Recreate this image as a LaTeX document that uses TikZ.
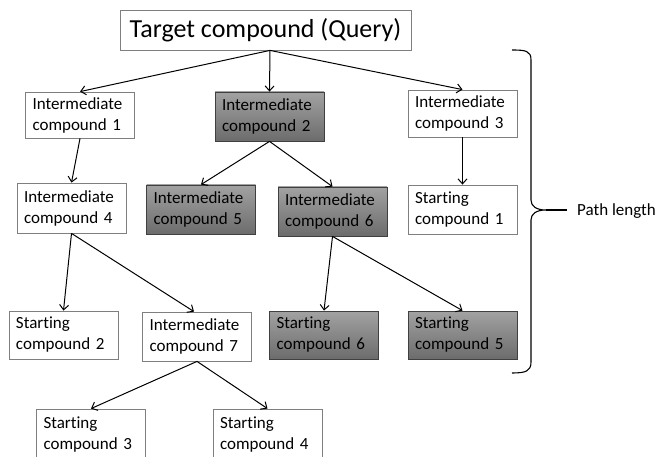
\documentclass[tikz,border=0pt]{standalone}
\usepackage{fontspec}
\setmainfont{Carlito}[RawFeature={-liga}]
\usetikzlibrary{arrows.meta}
\definecolor{boxline}{HTML}{7F7F7F}
\definecolor{darkline}{HTML}{404040}
\definecolor{shadetop}{HTML}{A2A2A2}
\definecolor{shadebot}{HTML}{6C6C6C}
\begin{document}
\begin{tikzpicture}[x=1pt,y=-1pt,
  cbox/.style={draw=boxline, line width=0.8pt, fill=white, align=left,
    text width=95pt, inner xsep=7pt, inner ysep=0pt, minimum width=109pt,
    minimum height=#1, font=\fontsize{17}{21}\selectfont},
  cbox/.default=48pt,
  gbox/.style={cbox=#1, draw=darkline, top color=shadetop, bottom color=shadebot},
  gbox/.default=49pt,
  arr/.style={line width=1pt, -{Straight Barb[length=5pt,width=9pt]}}]
\useasboundingbox (0,0) rectangle (659,457);
\clip (0,0) rectangle (659,457);

% query node
\node[draw=boxline, line width=0.8pt, minimum width=291pt, minimum height=40pt,
  inner sep=0pt, font=\fontsize{26}{30}\selectfont] (top) at (265.5,30) {Target compound (Query)};

% first level
\node[cbox=46pt] (ic1) at (80,115) {Intermediate\\compound 1};
\node[gbox=49pt] (ic2) at (269.5,116.5) {Intermediate\\compound 2};
\node[cbox=47pt] (ic3) at (462.5,113.5) {Intermediate\\compound 3};

% second level
\node[cbox=50pt] (ic4) at (71.5,208) {Intermediate\\compound 4};
\node[gbox] (ic5) at (201,209.5) {Intermediate\\compound 5};
\node[gbox] (ic6) at (332.5,211.5) {Intermediate\\compound 6};
\node[cbox=49pt] (sc1) at (462.5,209.5) {Starting\\compound 1};

% third level
\node[cbox] (sc2) at (63.5,335) {Starting\\compound 2};
\node[cbox=49pt] (ic7) at (197,336.5) {Intermediate\\compound 7};
\node[gbox=48pt] (sc6) at (324,335) {Starting\\compound 6};
\node[gbox=48pt] (sc5) at (462.5,335) {Starting\\compound 5};

% fourth level
\node[cbox=52pt] (sc3) at (91,435) {Starting\\compound 3};
\node[cbox=52pt] (sc4) at (267.5,435) {Starting\\compound 4};

% connectors
\coordinate (root) at ([xshift=4.5pt]top.south);
\draw[arr] (root) -- (ic1.north);
\draw[arr] (root) -- (ic2.north);
\draw[arr] (root) -- (ic3.north);
\draw[arr] (ic1.south) -- (ic4.north);
\draw[arr] (ic2.south) -- (ic5.north);
\draw[arr] (ic2.south) -- (ic6.north);
\draw[arr] (ic3.south) -- (sc1.north);
\draw[arr] (ic4.south) -- (sc2.north);
\draw[arr] (ic4.south) -- ([xshift=-3pt]ic7.north);
\draw[arr] (ic6.south) -- (sc6.north);
\draw[arr] (ic6.south) -- (sc5.north);
\draw[arr] (ic7.south) -- (sc3.north);
\draw[arr] (ic7.south) -- (sc4.north);

% brace spanning the levels
\draw[line width=1.1pt, line join=round]
  (512,50) .. controls (526,50) and (531,51) .. (531,60)
  -- (531,200) .. controls (531,206) and (536,210) .. (546,210)
  .. controls (536,210) and (531,214) .. (531,220)
  -- (531,362) .. controls (531,371) and (526,373) .. (512,373);
\draw[line width=1.1pt] (546,210) -- (567,210);
\node[anchor=west, inner sep=0pt, font=\fontsize{17}{21}\selectfont] (plen) at (577,211) {Path length};
\end{tikzpicture}
\end{document}
